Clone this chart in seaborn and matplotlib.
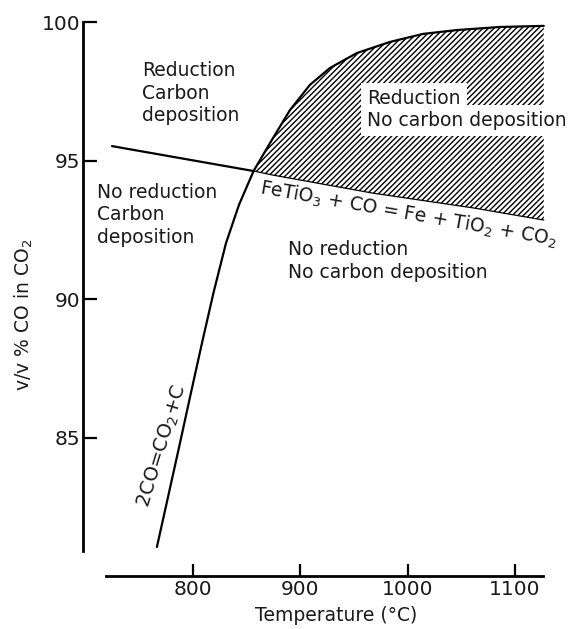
import numpy as np
import pandas as pd
import matplotlib
matplotlib.use("Agg")
import matplotlib.pyplot as plt
import seaborn as sns

# ---- data ----
# Boudouard equilibrium 2CO = CO2 + C
boud_T = [766.4, 777.6, 787.9, 798.1, 808.4, 819.1, 830.8, 842.9, 856.5,
          871.8, 890.4, 909.0, 927.7, 952.8, 983.6, 1014.4, 1046.0, 1086.0, 1127.0]
boud_y = [81.05, 83.0, 84.8, 86.61, 88.41, 90.22, 92.02, 93.40, 94.62,
          95.63, 96.82, 97.73, 98.34, 98.88, 99.28, 99.57, 99.71, 99.82, 99.86]
# Ilmenite reduction FeTiO3 + CO = Fe + TiO2 + CO2
ilm_T = [724.5, 856.5, 875.0, 968.0, 1061.0, 1127.0]
ilm_y = [95.52, 94.62, 94.47, 93.82, 93.29, 92.85]
INTERSECT = 8  # index of intersection in boud series (= index 1 in ilm series)

x_ticks = [800, 900, 1000, 1100]
y_ticks = [85, 90, 95, 100]
x_label = "Temperature (°C)"
y_label = "v/v % CO in CO$_2$"

sns.set_theme(style="ticks")
plt.rcParams["font.family"] = ["DejaVu Sans"]
plt.rcParams["hatch.linewidth"] = 1.0

fig = plt.figure(figsize=(5.73, 6.29), dpi=100)
ax = fig.add_axes([83 / 573, 53 / 629, 464 / 573, 562.3 / 629])
ax.set_xlim(697.5, 1130)
ax.set_ylim(80, 100.3)

txt = "#1a1a1a"

# hatched region: reduction, no carbon deposition
poly_T = boud_T[INTERSECT:] + ilm_T[1:][::-1]
poly_y = boud_y[INTERSECT:] + ilm_y[1:][::-1]
ax.fill(poly_T, poly_y, facecolor="white", edgecolor="black", linewidth=0,
        hatch="//////", zorder=1)

df_b = pd.DataFrame({"T": boud_T, "y": boud_y})
df_i = pd.DataFrame({"T": ilm_T[:2], "y": ilm_y[:2]})
df_i2 = pd.DataFrame({"T": ilm_T[1:], "y": ilm_y[1:]})
sns.lineplot(data=df_b, x="T", y="y", sort=False, color="black", lw=1.6, ax=ax, zorder=3)
sns.lineplot(data=df_i, x="T", y="y", sort=False, color="black", lw=1.6, ax=ax, zorder=3)
sns.lineplot(data=df_i2, x="T", y="y", sort=False, color="black", lw=0.9, ax=ax, zorder=3)

fs = 13.5
ax.text(752.5, 98.6, "Reduction\nCarbon\ndeposition", ha="left", va="top",
        fontsize=fs, color=txt, linespacing=1.25)
ax.text(710.5, 94.2, "No reduction\nCarbon\ndeposition", ha="left", va="top",
        fontsize=fs, color=txt, linespacing=1.25)
ax.text(888.5, 92.13, "No reduction\nNo carbon deposition", ha="left", va="top",
        fontsize=fs, color=txt, linespacing=1.25)
bb = dict(facecolor="white", edgecolor="none", pad=4.5)
ax.text(962.2, 97.58, "Reduction", ha="left", va="top", fontsize=fs, color=txt,
        bbox=bb, zorder=4)
ax.text(962.2, 96.79, "No carbon deposition", ha="left", va="top", fontsize=fs,
        color=txt, bbox=bb, zorder=4)
ax.text(864, 94.4, "FeTiO$_3$ + CO = Fe + TiO$_2$ + CO$_2$", ha="left", va="top",
        rotation=-10, rotation_mode="anchor", fontsize=fs, color=txt, zorder=4)
ax.text(771.6, 84.7, "2CO=CO$_2$+C", ha="center", va="center", rotation=73,
        rotation_mode="anchor", fontsize=14, color=txt, zorder=4)

# axes styling (broken-axis look)
for s in ["top", "right"]:
    ax.spines[s].set_visible(False)
ax.spines["left"].set_bounds(80.9, 100)
ax.spines["bottom"].set_bounds(719, 1126)
for s in ["left", "bottom"]:
    ax.spines[s].set_linewidth(2.0)
    ax.spines[s].set_color("black")
ax.set_xticks(x_ticks)
ax.set_yticks(y_ticks)
ax.tick_params(axis="y", direction="in", length=10, width=1.6, labelsize=14.5,
               pad=2, colors="black", labelcolor=txt)
ax.tick_params(axis="x", direction="in", length=8.5, width=1.6, labelsize=14.5,
               pad=3, colors="black", labelcolor=txt)

ax.set_xlabel(x_label, fontsize=13.5, color=txt)
ax.set_ylabel(y_label, fontsize=13.5, color=txt)
ax.xaxis.label.set_va("center")
ax.yaxis.label.set_va("center")
ax.xaxis.set_label_coords(0.545, -0.071)
ax.yaxis.set_label_coords(-0.127, 0.464)

fig.savefig("out.png", dpi=100, facecolor="white")
